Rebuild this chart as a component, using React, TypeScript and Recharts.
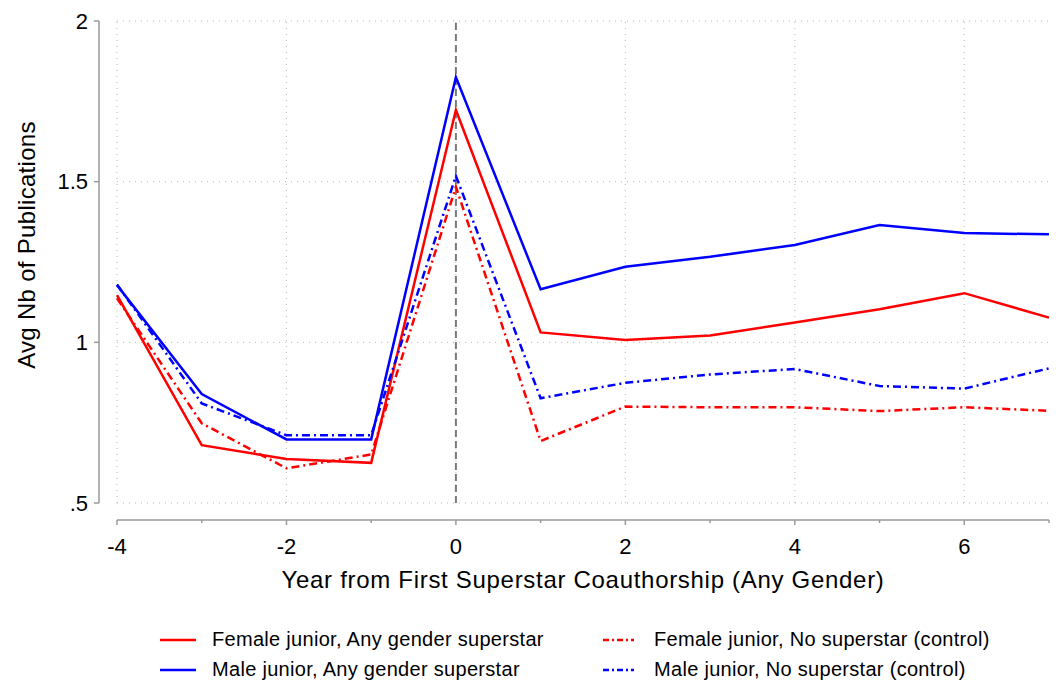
import { LineChart, Line, XAxis, YAxis, CartesianGrid, ReferenceLine, Legend } from 'recharts';

const years = [-4, -3, -2, -1, 0, 1, 2, 3, 4, 5, 6, 7];
const femaleAny = [1.147, 0.68, 0.637, 0.625, 1.723, 1.031, 1.007, 1.021, 1.062, 1.103, 1.153, 1.077];
const maleAny = [1.178, 0.839, 0.698, 0.698, 1.825, 1.165, 1.235, 1.266, 1.303, 1.365, 1.34, 1.336];
const femaleCtrl = [1.137, 0.748, 0.608, 0.651, 1.484, 0.693, 0.8, 0.798, 0.798, 0.786, 0.798, 0.787];
const maleCtrl = [1.18, 0.81, 0.711, 0.711, 1.518, 0.826, 0.874, 0.9, 0.917, 0.864, 0.856, 0.919];

const xTicks = [-4, -3, -2, -1, 0, 1, 2, 3, 4, 5, 6, 7];
const xMajor = [-4, -2, 0, 2, 4, 6];
const yTicks = [0.5, 1, 1.5, 2];

const DASHDOT = '8 4 2 4';
const FONT = '"Liberation Sans", Arial, Helvetica, sans-serif';
const AXIS = '#9a9a9a';

const series = [
    { key: 'femaleAny', name: 'Female junior, Any gender superstar', color: '#ff0000', dash: undefined },
    { key: 'maleAny', name: 'Male junior, Any gender superstar', color: '#0000ff', dash: undefined },
    { key: 'femaleCtrl', name: 'Female junior, No superstar (control)', color: '#ff0000', dash: DASHDOT },
    { key: 'maleCtrl', name: 'Male junior, No superstar (control)', color: '#0000ff', dash: DASHDOT },
];

const data = years.map((year, i) => ({
    year,
    femaleAny: femaleAny[i],
    maleAny: maleAny[i],
    femaleCtrl: femaleCtrl[i],
    maleCtrl: maleCtrl[i],
}));

function XTick(props: any) {
    const { x, y, payload } = props;
    const major = payload.value % 2 === 0;
    return (
        <g>
            <line x1={x} x2={x} y1={y + 17} y2={y + 17 + (major ? 5 : 3)} stroke={AXIS} strokeWidth={1.5} />
            {major && (
                <text x={x} y={y + 43} dy="0.35em" textAnchor="middle" fontSize={22} fill="#000" fontFamily={FONT}>
                    {payload.value}
                </text>
            )}
        </g>
    );
}

function YTick(props: any) {
    const { x, y, payload } = props;
    const label = payload.value === 0.5 ? '.5' : String(payload.value);
    return (
        <g>
            <line x1={x - 18} x2={x - 23} y1={y} y2={y} stroke={AXIS} strokeWidth={1.5} />
            <text x={x - 29} y={y} dy="0.35em" textAnchor="end" fontSize={22} fill="#000" fontFamily={FONT}>
                {label}
            </text>
        </g>
    );
}

function LegendBox() {
    const rows = [
        [series[0], series[2]],
        [series[1], series[3]],
    ];
    return (
        <div style={{ fontFamily: FONT, fontSize: 20, letterSpacing: 0.3, color: '#000' }}>
            {rows.map((row, r) => (
                <div key={r}>
                    {row.map((s, c) => (
                        <div key={s.key} style={{ display: 'flex', alignItems: 'center', position: 'absolute', left: c === 0 ? 152 : 603, top: r * 30 }}>
                            <svg width={c === 0 ? 44 : 31} height={10} style={{ marginRight: c === 0 ? 16 : 20 }}>
                                <line x1={c === 0 ? 8 : 0} x2={c === 0 ? 44 : 31} y1={5} y2={5} stroke={s.color} strokeWidth={2.5} strokeDasharray={s.dash ? '6 3 2 3' : undefined} />
                            </svg>
                            <span style={{ lineHeight: '31px' }}>{s.name}</span>
                        </div>
                    ))}
                </div>
            ))}
        </div>
    );
}

export default function App() {
    return (
        <div style={{ position: 'absolute', left: 0, top: 0, width: 1061, height: 686, background: '#fff' }}>
            <LineChart width={1061} height={686} data={data} margin={{ top: 21, right: 12, left: 0, bottom: 93 }}>
                <CartesianGrid vertical={false} stroke="#b5b5b5" strokeDasharray="1 5" />
                {xMajor.map((v) => (
                    <ReferenceLine key={v} x={v} stroke="#b5b5b5" strokeDasharray="1 5" />
                ))}
                <ReferenceLine x={0} stroke="#7a7a7a" strokeWidth={2} strokeDasharray="7 4" />
                <XAxis
                    dataKey="year"
                    type="number"
                    domain={[-4, 7]}
                    ticks={xTicks}
                    interval={0}
                    height={90}
                    tickSize={0}
                    tickMargin={0}
                    tickLine={false}
                    tick={<XTick />}
                    axisLine={{ stroke: AXIS, strokeWidth: 1.5, transform: 'translate(0,17)' }}
                    label={{ value: 'Year from First Superstar Coauthorship (Any Gender)', position: 'center', dy: 31, fontSize: 24, letterSpacing: 0.7, fill: '#000', fontFamily: FONT }}
                />
                <YAxis
                    type="number"
                    domain={[0.5, 2]}
                    ticks={yTicks}
                    width={117}
                    tickSize={0}
                    tickMargin={0}
                    tickLine={false}
                    tick={<YTick />}
                    axisLine={{ stroke: AXIS, strokeWidth: 1.5, transform: 'translate(-18,0)' }}
                    label={{ value: 'Avg Nb of Publications', angle: -90, position: 'center', dx: -32, dy: -17, fontSize: 24, letterSpacing: 0.3, fill: '#000', fontFamily: FONT }}
                />
                {series.map((s) => (
                    <Line
                        key={s.key}
                        type="linear"
                        dataKey={s.key}
                        name={s.name}
                        stroke={s.color}
                        strokeWidth={2.5}
                        strokeDasharray={s.dash}
                        dot={false}
                        activeDot={false}
                        isAnimationActive={false}
                    />
                ))}
                <Legend
                    layout="horizontal"
                    verticalAlign="middle"
                    align="center"
                    content={() => <LegendBox />}
                    wrapperStyle={{ top: 624, left: 0, width: 1061, height: 62 }}
                />
            </LineChart>
        </div>
    );
}
